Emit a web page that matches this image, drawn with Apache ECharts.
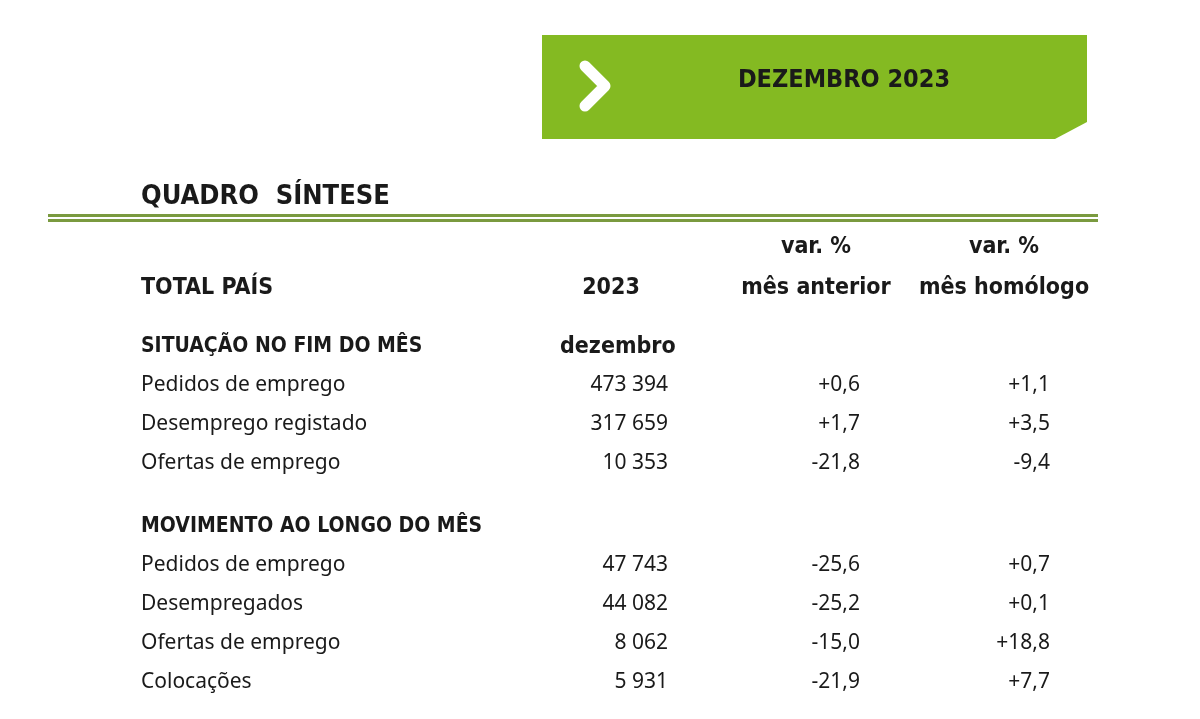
<!DOCTYPE html>
<html>
<head>
<meta charset="utf-8">
<script src="https://cdn.jsdelivr.net/npm/echarts@6/dist/echarts.min.js"></script>
<style>html,body{margin:0;padding:0;background:#fff}#main{width:1200px;height:719px}</style>
</head>
<body>
<div id="main"></div>
<script>
// dados do quadro
var situacaoLabels = ['Pedidos de emprego', 'Desemprego registado', 'Ofertas de emprego'];
var situacaoValores = ['473 394', '317 659', '10 353'];
var situacaoMesAnterior = ['+0,6', '+1,7', '-21,8'];
var situacaoHomologo = ['+1,1', '+3,5', '-9,4'];

var movimentoLabels = ['Pedidos de emprego', 'Desempregados', 'Ofertas de emprego', 'Colocações'];
var movimentoValores = ['47 743', '44 082', '8 062', '5 931'];
var movimentoMesAnterior = ['-25,6', '-25,2', '-15,0', '-21,9'];
var movimentoHomologo = ['+0,7', '+0,1', '+18,8', '+7,7'];

var chart = echarts.init(document.getElementById('main'));

var headFont = '"Liberation Sans Narrow", "DejaVu Sans Condensed", sans-serif';
var bodyFont = '"Noto Sans", sans-serif';
var ink = '#1a1a1a';

function txt(x, y, s, opt) {
  opt = opt || {};
  return {
    type: 'text', x: x, y: y,
    style: {
      text: s, fill: ink,
      font: (opt.bold ? 'bold ' : '') + (opt.size || 21) + 'px ' + (opt.family || bodyFont),
      textAlign: opt.align || 'left', textVerticalAlign: 'middle'
    }
  };
}

var els = [];
// banner
els.push({
  type: 'polygon',
  shape: { points: [[542, 35], [1087, 35], [1087, 122], [1055, 139], [542, 139]] },
  style: { fill: '#84ba22' }
});
els.push({
  type: 'polyline',
  shape: { points: [[585, 66], [605, 86], [585, 106]] },
  style: { stroke: '#fff', lineWidth: 11, lineCap: 'round', lineJoin: 'round', fill: null }
});
els.push(txt(844, 80, 'DEZEMBRO 2023', { bold: true, size: 25, family: headFont, align: 'center' }));

els.push(txt(141, 197, 'QUADRO  SÍNTESE', { bold: true, size: 27, family: headFont }));
els.push({ type: 'rect', shape: { x: 48, y: 214, width: 1050, height: 3 }, style: { fill: '#7a9a3f' } });
els.push({ type: 'rect', shape: { x: 48, y: 219, width: 1050, height: 3 }, style: { fill: '#7a9a3f' } });

var h = { bold: true, size: 23, family: headFont };
els.push(txt(141, 288, 'TOTAL PAÍS', h));
els.push(txt(611, 288, '2023', Object.assign({ align: 'center' }, h)));
els.push(txt(816, 247, 'var. %', Object.assign({ align: 'center' }, h)));
els.push(txt(816, 288, 'mês anterior', Object.assign({ align: 'center' }, h)));
els.push(txt(1004, 247, 'var. %', Object.assign({ align: 'center' }, h)));
els.push(txt(1004, 288, 'mês homólogo', Object.assign({ align: 'center' }, h)));

var s = { bold: true, size: 21, family: headFont };
els.push(txt(141, 347, 'SITUAÇÃO NO FIM DO MÊS', s));
els.push(txt(560, 347, 'dezembro', { bold: true, size: 23, family: headFont }));
els.push(txt(141, 527, 'MOVIMENTO AO LONGO DO MÊS', s));

function bloco(labels, vals, ant, hom, y0) {
  labels.forEach(function (l, i) {
    var y = y0 + i * 39;
    els.push(txt(141, y, l));
    els.push(txt(668, y, vals[i], { align: 'right' }));
    els.push(txt(860, y, ant[i], { align: 'right' }));
    els.push(txt(1050, y, hom[i], { align: 'right' }));
  });
}
bloco(situacaoLabels, situacaoValores, situacaoMesAnterior, situacaoHomologo, 385);
bloco(movimentoLabels, movimentoValores, movimentoMesAnterior, movimentoHomologo, 565);

chart.setOption({ animation: false, graphic: { elements: els } });
</script>
</body>
</html>
